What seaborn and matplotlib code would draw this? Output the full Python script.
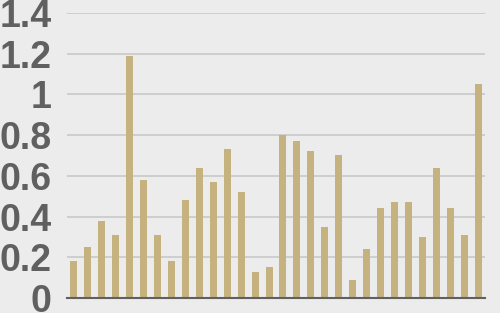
import matplotlib
matplotlib.use("Agg")
import matplotlib.pyplot as plt
import seaborn as sns
import pandas as pd

categories = [f"c{i+1}" for i in range(30)]
values = [0.18, 0.25, 0.38, 0.31, 1.19, 0.58, 0.31, 0.18, 0.48, 0.64,
          0.57, 0.73, 0.52, 0.13, 0.15, 0.80, 0.77, 0.72, 0.35, 0.70,
          0.09, 0.24, 0.44, 0.47, 0.47, 0.30, 0.64, 0.44, 0.31, 1.05]
yticks = [0, 0.2, 0.4, 0.6, 0.8, 1.0, 1.2, 1.4]
ytick_labels = ["0", "0.2", "0.4", "0.6", "0.8", "1", "1.2", "1.4"]

df = pd.DataFrame({"cat": categories, "val": values})

sns.set_style("white")
plt.rcParams["font.family"] = ["Liberation Sans", "DejaVu Sans"]

fig = plt.figure(figsize=(5, 3.13), dpi=100, facecolor="#ececec")
ax = fig.add_axes([0.134, 0.0479, 0.836, 0.9106])
ax.set_facecolor("#ececec")

sns.barplot(data=df, x="cat", y="val", color="#c6b27e", width=0.5,
            saturation=1, ax=ax, zorder=3, linewidth=0)

ax.set_ylim(0, 1.4)
ax.set_yticks(yticks)
ax.set_yticklabels(ytick_labels)
ax.yaxis.grid(True, color="#c8c8c8", linewidth=1.2, zorder=0)
ax.set_axisbelow(True)
ax.set_xticks([])
ax.set_xlabel("")
ax.set_ylabel("")
for s in ["top", "right", "left"]:
    ax.spines[s].set_visible(False)
ax.spines["bottom"].set_color("#606060")
ax.spines["bottom"].set_linewidth(1.5)
ax.spines["bottom"].set_zorder(5)
ax.tick_params(axis="y", length=0, pad=11, labelsize=27, labelcolor="#606060")
for lbl in ax.get_yticklabels():
    lbl.set_fontweight("bold")

fig.savefig("out.png", dpi=100, facecolor="#ececec")
